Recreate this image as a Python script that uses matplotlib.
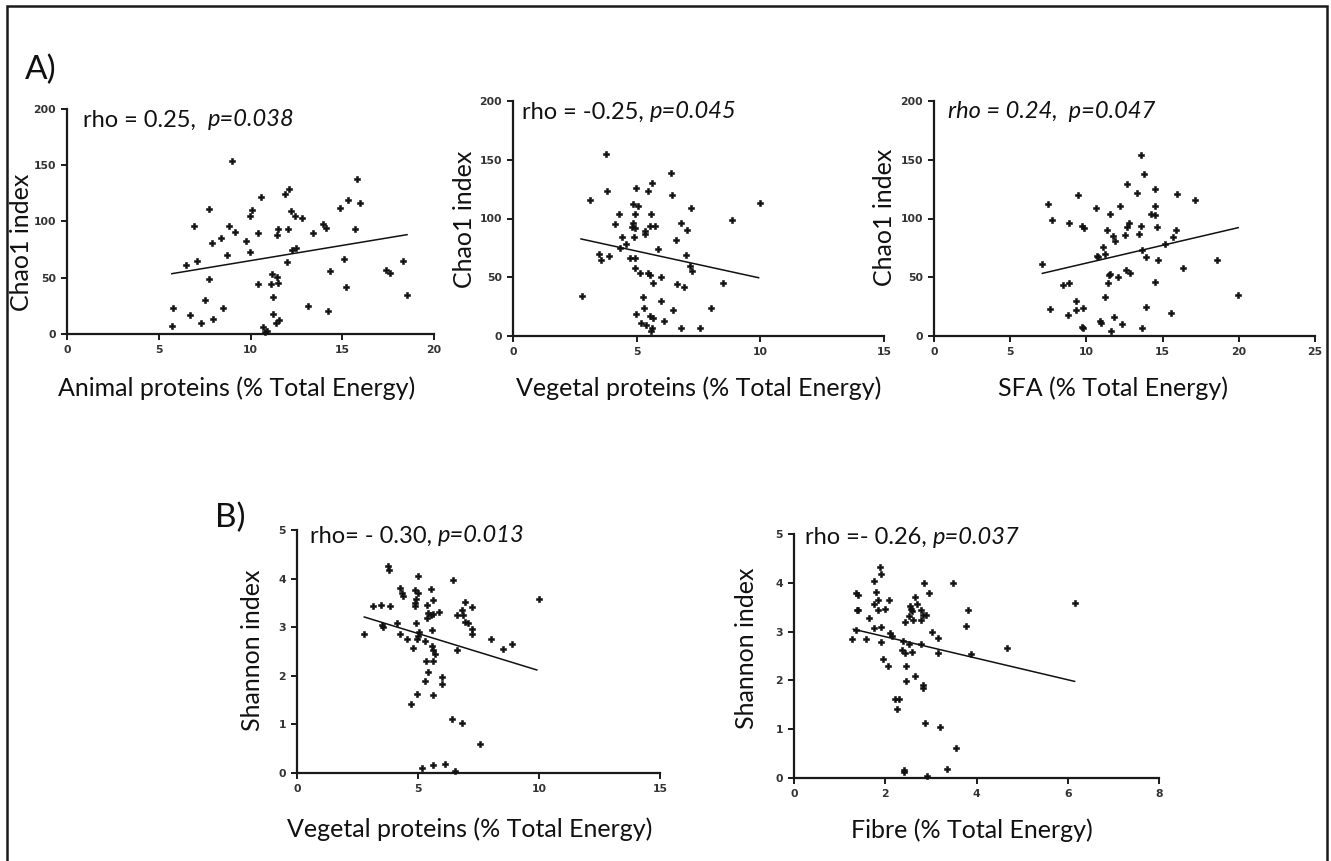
import numpy as np
import matplotlib
matplotlib.use("Agg")
import matplotlib.pyplot as plt
from matplotlib.patches import Rectangle

W, H = 1331, 861

# ---------------- data ----------------
# A1: Animal proteins vs Chao1
animal_x = [8.98, 15.81, 15.32, 15.99, 14.90, 10.57, 12.11, 11.88, 7.72, 10.06, 9.97, 12.18,
            12.42, 12.78, 6.94, 8.81, 9.16, 10.39, 11.51, 11.46, 12.02, 13.42, 13.96, 14.14,
            15.70, 8.40, 7.91, 9.76, 9.97, 8.70, 12.24, 12.47, 11.99, 7.07, 6.49, 15.10,
            18.31, 7.72, 11.15, 11.42, 11.10, 11.48, 10.43, 14.32, 17.41, 17.59, 15.18, 11.24,
            18.53, 5.77, 7.54, 8.49, 13.13, 14.22, 11.21, 6.71, 7.98, 7.31, 5.73, 11.38,
            11.56, 10.70, 10.79, 10.88]
animal_chao1 = [154, 138, 119, 116, 112, 122, 129, 124, 111, 110, 105, 109,
                105, 103, 96, 96, 91, 90, 93, 88, 93, 90, 98, 94,
                93, 85, 81, 83, 73, 70, 75, 76, 64, 65, 61, 67,
                65, 49, 53, 51, 44, 45, 44, 56, 57, 54, 42, 33,
                35, 23, 30, 23, 25, 20, 18, 17, 13, 10, 7, 10,
                12, 6, 2, 3]
animal_fit_x = [5.71, 18.53]
animal_fit_y = [53.6, 88.3]

# A2: Vegetal proteins vs Chao1
veg_x = [3.76, 6.40, 3.13, 3.80, 4.99, 5.44, 5.61, 6.44, 9.97, 7.20, 8.85, 4.85, 5.04,
         4.30, 4.95, 5.59, 4.11, 4.85, 4.95, 4.81, 5.35, 5.35, 5.53, 5.75, 6.79, 7.04,
         4.41, 4.91, 6.60, 4.57, 4.31, 5.86, 3.48, 3.87, 3.54, 7.01, 4.72, 4.95, 7.14,
         7.22, 4.95, 5.12, 5.44, 5.55, 5.98, 5.66, 6.63, 6.90, 8.49, 2.78, 5.26, 5.98,
         5.31, 6.47, 8.01, 4.99, 5.55, 5.66, 6.09, 5.18, 5.39, 5.62, 5.58, 6.79, 7.55]
veg_chao1 = [155, 139, 116, 123, 126, 123, 130, 120, 113, 109, 99, 112, 111,
             104, 104, 104, 95, 96, 92, 93, 89, 87, 94, 94, 96, 90,
             84, 84, 82, 78, 75, 74, 70, 68, 65, 69, 66, 66, 60,
             55, 58, 54, 54, 52, 50, 45, 44, 42, 45, 34, 33, 30,
             24, 22, 24, 19, 17, 15, 13, 11, 9, 7, 4, 7, 7]
veg_fit_x = [2.75, 9.93]
veg_fit_y = [82.6, 49.6]

# A3: SFA vs Chao1
sfa_x = [13.55, 13.77, 12.67, 13.35, 14.49, 15.92, 17.12, 7.49, 9.46, 10.66, 11.54, 12.19,
         14.51, 14.27, 14.51, 7.77, 8.87, 9.68, 9.83, 12.81, 12.67, 13.55, 14.60, 11.32,
         15.87, 13.46, 12.52, 11.75, 11.86, 15.70, 15.15, 11.10, 10.70, 10.77, 11.21, 13.66,
         13.88, 14.67, 7.11, 18.54, 16.35, 12.63, 12.85, 11.54, 11.49, 12.08, 8.47, 8.87,
         11.43, 14.51, 19.96, 11.23, 9.35, 9.35, 9.79, 7.64, 13.88, 15.52, 8.80, 11.82,
         10.92, 10.99, 12.35, 9.68, 9.79, 13.66, 11.64]
sfa_chao1 = [154, 138, 129, 122, 125, 121, 116, 112, 120, 109, 104, 111,
             111, 104, 103, 99, 96, 94, 92, 96, 93, 94, 93, 90,
             90, 87, 86, 85, 81, 84, 78, 76, 68, 67, 70, 73,
             67, 65, 61, 65, 58, 56, 54, 53, 52, 50, 43, 45,
             45, 46, 35, 33, 30, 22, 24, 23, 25, 20, 18, 16,
             13, 11, 10, 8, 7, 7, 4]
sfa_fit_x = [7.11, 19.96]
sfa_fit_y = [53.3, 92.2]

# B1: Vegetal proteins vs Shannon
vegB_x = [3.78, 3.81, 5.00, 6.44, 4.27, 4.34, 4.38, 4.86, 4.98, 5.53, 3.14, 3.48, 3.85,
          4.86, 4.88, 4.91, 5.39, 5.60, 5.43, 5.53, 5.64, 5.39, 5.85, 6.63, 6.81, 6.95,
          7.22, 6.88, 6.95, 7.06, 7.22, 7.22, 9.98, 3.51, 3.55, 4.13, 4.93, 2.75, 4.27,
          4.54, 5.06, 4.98, 4.95, 5.57, 5.27, 4.79, 5.57, 5.64, 5.71, 6.63, 8.00, 8.50,
          8.87, 5.34, 5.64, 5.41, 6.00, 6.00, 5.30, 4.95, 5.61, 4.72, 6.40, 6.81, 7.57,
          5.16, 5.61, 6.10, 6.51]
vegB_shannon = [4.26, 4.18, 4.05, 3.98, 3.80, 3.70, 3.64, 3.76, 3.70, 3.78, 3.43, 3.45, 3.44,
                3.50, 3.44, 3.59, 3.45, 3.56, 3.30, 3.25, 3.28, 3.19, 3.32, 3.25, 3.35, 3.52,
                3.42, 3.25, 3.11, 3.08, 2.97, 2.86, 3.58, 3.04, 3.01, 3.08, 3.09, 2.85, 2.86,
                2.75, 2.91, 2.82, 2.75, 2.94, 2.72, 2.58, 2.61, 2.53, 2.44, 2.54, 2.75, 2.56,
                2.65, 2.31, 2.31, 2.07, 1.98, 1.83, 1.90, 1.62, 1.60, 1.41, 1.12, 1.02, 0.60,
                0.10, 0.17, 0.19, 0.05]
vegB_fit_x = [2.78, 9.91]
vegB_fit_y = [3.21, 2.12]

# B2: Fibre vs Shannon
fibre_x = [1.88, 1.90, 1.76, 2.85, 3.49, 1.35, 1.41, 1.79, 2.96, 1.84, 2.09, 1.76, 2.65,
           2.69, 2.54, 6.15, 1.37, 1.41, 1.84, 2.00, 2.57, 2.59, 2.78, 3.82, 1.64, 2.53,
           2.43, 2.61, 2.78, 2.83, 2.89, 1.76, 1.90, 3.78, 1.35, 1.28, 1.57, 2.10, 2.14,
           3.03, 3.16, 1.90, 2.39, 2.53, 2.78, 2.37, 2.44, 2.58, 3.15, 3.89, 4.67, 1.96,
           2.07, 2.45, 2.65, 2.45, 2.82, 2.82, 2.21, 2.31, 2.26, 2.87, 3.21, 3.56, 2.41,
           2.41, 3.36, 2.91]
fibre_shannon = [4.32, 4.18, 4.04, 3.99, 3.99, 3.80, 3.74, 3.81, 3.79, 3.65, 3.64, 3.56, 3.70,
                 3.57, 3.53, 3.59, 3.44, 3.44, 3.44, 3.46, 3.46, 3.42, 3.44, 3.44, 3.27, 3.31,
                 3.19, 3.23, 3.24, 3.33, 3.34, 3.08, 3.10, 3.12, 3.04, 2.85, 2.85, 2.97, 2.90,
                 3.00, 2.87, 2.78, 2.80, 2.74, 2.75, 2.63, 2.56, 2.59, 2.56, 2.54, 2.66, 2.44,
                 2.30, 2.30, 2.08, 1.99, 1.91, 1.84, 1.62, 1.62, 1.41, 1.13, 1.04, 0.61, 0.17,
                 0.12, 0.19, 0.05]
fibre_fit_x = [1.30, 6.15]
fibre_fit_y = [3.05, 1.98]

chao_ticks = [0, 50, 100, 150, 200]
shannon_ticks = [0, 1, 2, 3, 4, 5]

# ---------------- style ----------------
LABEL_FONT = "Lato"
TICK_FONT = "DejaVu Sans"
INK = "#111111"
TICK_INK = "#333333"

fig = plt.figure(figsize=(W / 100, H / 100), dpi=100)
fig.patch.set_facecolor("white")


def px_box(x0, x1, ytop, ybot):
    """Axes rectangle from pixel edges (origin top-left)."""
    return [x0 / W, 1 - ybot / H, (x1 - x0) / W, (ybot - ytop) / H]


def fx(x):
    return x / W


def fy(y):
    return 1 - y / H


def panel(box, xs, ys, fit_x, fit_y, xticks, yticks):
    ax = fig.add_axes(box)
    ax.set_xlim(xticks[0], xticks[-1])
    ax.set_ylim(yticks[0], yticks[-1])
    ax.plot(xs, ys, linestyle="none", marker="P", ms=5.0, mfc=INK, mec=INK,
            mew=0.4, clip_on=False, zorder=3)
    ax.plot(fit_x, fit_y, color=INK, lw=1.1, zorder=2)
    for s in ("top", "right"):
        ax.spines[s].set_visible(False)
    for s in ("left", "bottom"):
        ax.spines[s].set_linewidth(1.6)
        ax.spines[s].set_color("#1a1a1a")
    ax.set_xticks(xticks)
    ax.set_yticks(yticks)
    ax.tick_params(direction="out", length=4.5, width=1.4, color="#1a1a1a",
                   labelsize=7.8, labelcolor=TICK_INK, pad=3.5)
    for lab in ax.get_xticklabels() + ax.get_yticklabels():
        lab.set_fontfamily(TICK_FONT)
        lab.set_fontweight("bold")
    ax.set_facecolor("none")
    return ax


panel(px_box(67, 434, 109, 334), animal_x, animal_chao1, animal_fit_x, animal_fit_y,
      [0, 5, 10, 15, 20], chao_ticks)
panel(px_box(513, 884, 101, 336), veg_x, veg_chao1, veg_fit_x, veg_fit_y,
      [0, 5, 10, 15], chao_ticks)
panel(px_box(934, 1315, 101, 336), sfa_x, sfa_chao1, sfa_fit_x, sfa_fit_y,
      [0, 5, 10, 15, 20, 25], chao_ticks)
panel(px_box(297, 660, 530, 773), vegB_x, vegB_shannon, vegB_fit_x, vegB_fit_y,
      [0, 5, 10, 15], shannon_ticks)
panel(px_box(794, 1159, 534, 778), fibre_x, fibre_shannon, fibre_fit_x, fibre_fit_y,
      [0, 2, 4, 6, 8], shannon_ticks)

LBL = 18
STAT = 17
# y-axis titles
for (x, y, s) in [(22, 242, "Chao1 index"), (465, 219, "Chao1 index"),
                  (884, 217, "Chao1 index"), (252, 650, "Shannon index"),
                  (747, 648, "Shannon index")]:
    fig.text(fx(x), fy(y), s, rotation=90, ha="center", va="center",
             fontsize=LBL, family=LABEL_FONT, color=INK)

# x-axis titles
for (x, y, s) in [(237, 388, "Animal proteins (% Total Energy)"),
                  (699, 388, "Vegetal proteins (% Total Energy)"),
                  (1113, 388, "SFA (% Total Energy)"),
                  (470, 829, "Vegetal proteins (% Total Energy)"),
                  (972, 830, "Fibre (% Total Energy)")]:
    fig.text(fx(x), fy(y), s, ha="center", va="center",
             fontsize=LBL, family=LABEL_FONT, color=INK)

# panel letters
fig.text(fx(25), fy(70), "A)", ha="left", va="center", fontsize=24,
         family=LABEL_FONT, color=INK)
fig.text(fx(215), fy(518), "B)", ha="left", va="center", fontsize=24,
         family=LABEL_FONT, color=INK)

# correlation statistics: upright part followed by italic part
stats = [(83, 120, "rho = 0.25,  ", "p=0.038"),
         (522, 112, "rho = -0.25, ", "p=0.045"),
         (948, 112, "", "rho = 0.24,  p=0.047"),
         (310, 536, "rho= - 0.30, ", "p=0.013"),
         (805, 537, "rho =- 0.26, ", "p=0.037")]
fig.canvas.draw()
renderer = fig.canvas.get_renderer()
for (x, y, plain, ital) in stats:
    x_next = fx(x)
    if plain:
        t = fig.text(x_next, fy(y), plain, ha="left", va="center", fontsize=STAT,
                     family=LABEL_FONT, color=INK)
        bb = t.get_window_extent(renderer)
        x_next = bb.x1 / W
    fig.text(x_next, fy(y), ital, ha="left", va="center", fontsize=STAT,
             family=LABEL_FONT, style="italic", color=INK)

# outer frame (open at the bottom edge)
fig.add_artist(Rectangle((fx(7), -0.02), fx(1327) - fx(7), fy(6) + 0.02,
                         transform=fig.transFigure, fill=False, lw=1.8,
                         edgecolor="#1a1a1a"))

fig.savefig("out.png", dpi=100, facecolor="white")
